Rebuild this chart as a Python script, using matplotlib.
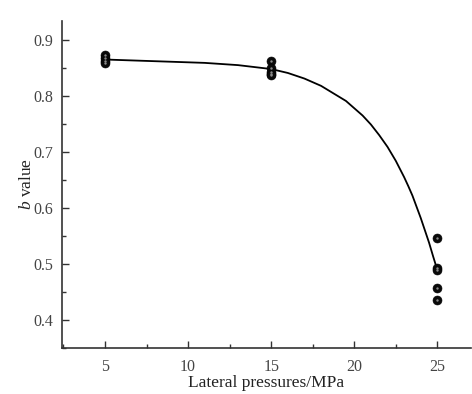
import matplotlib
matplotlib.use("Agg")
import matplotlib.pyplot as plt
from matplotlib.ticker import MultipleLocator

# measured b values at each lateral pressure
pressure_5 = [5, 5, 5, 5]
b_5 = [0.873, 0.867, 0.862, 0.858]
pressure_15 = [15, 15, 15, 15, 15]
b_15 = [0.862, 0.850, 0.843, 0.840, 0.837]
pressure_25 = [25, 25, 25, 25, 25]
b_25 = [0.547, 0.492, 0.489, 0.457, 0.436]

# fitted curve
fit_x = [5, 7, 9, 11, 13, 15, 16, 17, 18, 19, 19.5, 20, 20.5, 21, 21.5, 22, 22.5,
         23, 23.25, 23.5, 23.75, 24, 24.25, 24.5, 24.75, 25]
fit_y = [0.865, 0.863, 0.861, 0.859, 0.855, 0.848, 0.841, 0.831, 0.818, 0.800,
         0.791, 0.778, 0.765, 0.749, 0.730, 0.709, 0.684, 0.655, 0.639, 0.622,
         0.602, 0.582, 0.560, 0.538, 0.513, 0.489]

plt.rcParams['font.family'] = ['Liberation Serif', 'DejaVu Serif']
plt.rcParams['mathtext.fontset'] = 'custom'
plt.rcParams['mathtext.it'] = 'Liberation Serif:italic'

fig = plt.figure(figsize=(4.72, 3.94), dpi=100)
ax = fig.add_axes([0.131, 0.117, 0.866, 0.830])

ax.plot(fit_x, fit_y, color='black', lw=1.3, solid_joinstyle='round', zorder=2)
for xs, ys in [(pressure_5, b_5), (pressure_15, b_15), (pressure_25, b_25)]:
    ax.scatter(xs, ys, s=42, color='#0a0a0a', edgecolors='black', linewidths=0.4, zorder=3)
    ax.scatter(xs, ys, s=3, color='#8a8a8a', linewidths=0, zorder=4)

ax.set_xlim(2.4, 27.0)
ax.set_ylim(0.35, 0.934)
ax.xaxis.set_major_locator(MultipleLocator(5))
ax.xaxis.set_minor_locator(MultipleLocator(2.5))
ax.yaxis.set_major_locator(MultipleLocator(0.1))
ax.yaxis.set_minor_locator(MultipleLocator(0.05))
ax.yaxis.set_major_formatter(plt.FuncFormatter(lambda v, p: f'{v:.1f}'))

for side in ['top', 'right']:
    ax.spines[side].set_visible(False)
for side in ['left', 'bottom']:
    ax.spines[side].set_linewidth(1.2)
    ax.spines[side].set_color('#333333')

ax.tick_params(which='both', direction='in', colors='#333333', labelcolor='#444444',
               labelsize=11.5, width=1.0)
ax.tick_params(which='major', length=5)
ax.tick_params(which='minor', length=3)
ax.tick_params(axis='x', pad=8)
ax.tick_params(axis='y', pad=6)

ax.set_xlabel('Lateral pressures/MPa', fontsize=12.5, color='#222222', labelpad=0)
ax.set_ylabel('$b$ value', fontsize=12.5, color='#222222', labelpad=-1)

fig.savefig('out.png', dpi=100)
